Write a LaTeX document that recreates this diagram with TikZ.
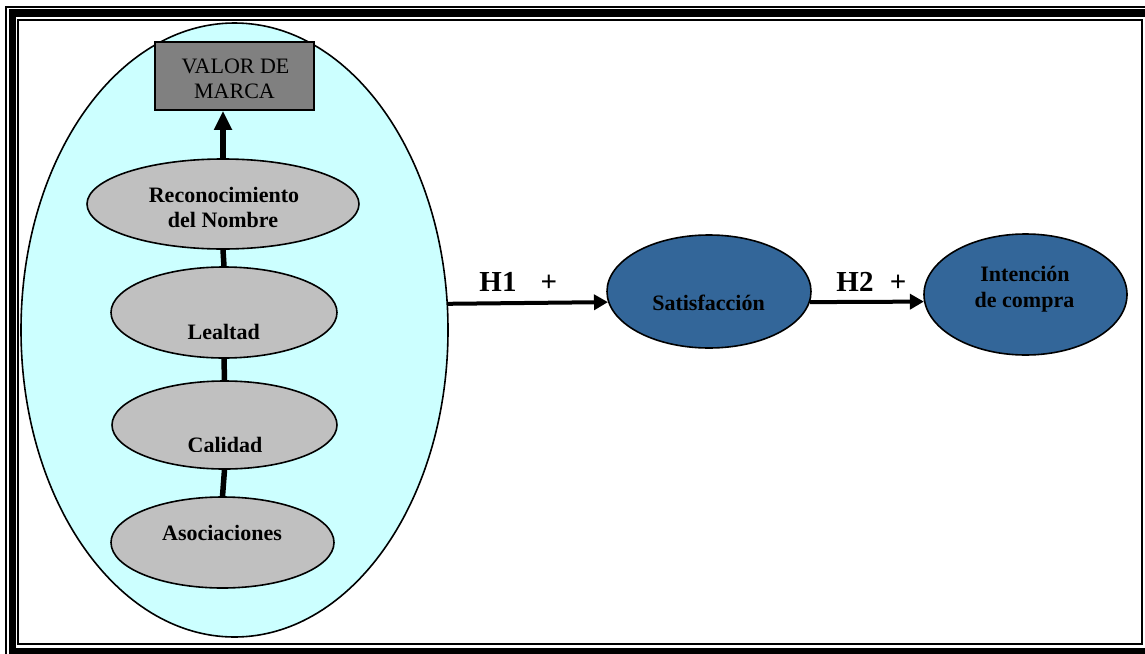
\documentclass[tikz,border=0pt]{standalone}
\usepackage{fontspec}
\setmainfont{Liberation Serif}
\usetikzlibrary{shapes.geometric,arrows.meta}
\definecolor{cyanfill}{HTML}{CCFFFF}
\definecolor{boxgray}{HTML}{808080}
\definecolor{ellgray}{HTML}{C0C0C0}
\definecolor{darkblue}{HTML}{336699}
\tikzset{
  grayell/.style={ellipse,draw=black,line width=1.6pt,fill=ellgray,inner sep=0pt},
  blueell/.style={ellipse,draw=black,line width=1.6pt,fill=darkblue,inner sep=0pt},
  lbl/.style={font=\fontsize{22}{24}\selectfont\bfseries,anchor=base,inner sep=0pt},
  lblreg/.style={font=\fontsize{22}{24}\selectfont,anchor=base,inner sep=0pt},
  hlbl/.style={font=\fontsize{29}{32}\selectfont\bfseries,anchor=base,inner sep=0pt},
  vlink/.style={line width=5.5pt},
  harrow/.style={line width=4pt,-{Triangle[length=14pt,width=15pt]}},
  uparrow/.style={line width=5.5pt,-{Triangle[length=19pt,width=17pt]}}
}
\begin{document}
\begin{tikzpicture}[x=1pt,y=-1pt]
\useasboundingbox (0,0) rectangle (1145,653);
\clip (0,0) rectangle (1145,653);
% frame
\draw[line width=2pt] (6,7) rectangle (1155,658);
\draw[line width=7.5pt] (12.5,13) rectangle (1149,651.5);
\draw[line width=2.2pt] (18,20) rectangle (1142,644.3);
% big ellipse
\node[ellipse,draw=black,line width=1.6pt,fill=cyanfill,inner sep=0pt,
  minimum width=427pt,minimum height=614pt] (big) at (234.5,330) {};
% value box
\node[draw=black,line width=1.6pt,fill=boxgray,inner sep=0pt,
  minimum width=159pt,minimum height=68pt] (valor) at (234.5,76) {};
% gray ellipses
\node[grayell,minimum width=272pt,minimum height=90pt] (reco) at (223,204) {};
\node[grayell,minimum width=226pt,minimum height=91pt] (leal) at (224,312.5) {};
\node[grayell,minimum width=225pt,minimum height=88pt] (cali) at (224.5,425) {};
\node[grayell,minimum width=223pt,minimum height=91pt] (asoc) at (222.5,542.5) {};
% blue ellipses
\node[blueell,minimum width=204pt,minimum height=113pt] (sat) at (709,291.5) {};
\node[blueell,minimum width=203pt,minimum height=121pt] (int) at (1025.5,294.5) {};
% connectors
\draw[uparrow] (reco.north) -- (reco.north |- valor.south);
\draw[vlink] (reco.south) -- (leal.north);
\draw[vlink] (leal.south) -- (cali.north);
\draw[vlink] (cali.south) -- (asoc.north);
\draw[harrow] (big.7.5) -- (sat.186);
\draw[harrow] (sat.354) -- (int.184.5);
% texts
\node[lblreg] (t1) at (235.5,73) {VALOR DE};
\node[lblreg] (t2) at (234.5,98) {MARCA};
\node[lbl] (t3) at (224,202) {Reconocimiento};
\node[lbl] (t4) at (223,227) {del Nombre};
\node[lbl] (t5) at (223.7,339) {Lealtad};
\begin{scope}
\clip (100,380) rectangle (350,451);
\node[lbl] (t6) at (225,452) {Calidad};
\end{scope}
\node[lbl] (t7) at (222,540) {Asociaciones};
\node[lbl] (t8) at (708.5,310) {Satisfacción};
\node[lbl] (t9) at (1025,281.5) {Intención};
\node[lbl] (t10) at (1024.5,307) {de compra};
\node[hlbl] (h1) at (498,291) {H1};
\node[hlbl] (p1) at (549,291) {+};
\node[hlbl] (h2) at (855,291) {H2};
\node[hlbl] (p2) at (898,291) {+};
\end{tikzpicture}
\end{document}
